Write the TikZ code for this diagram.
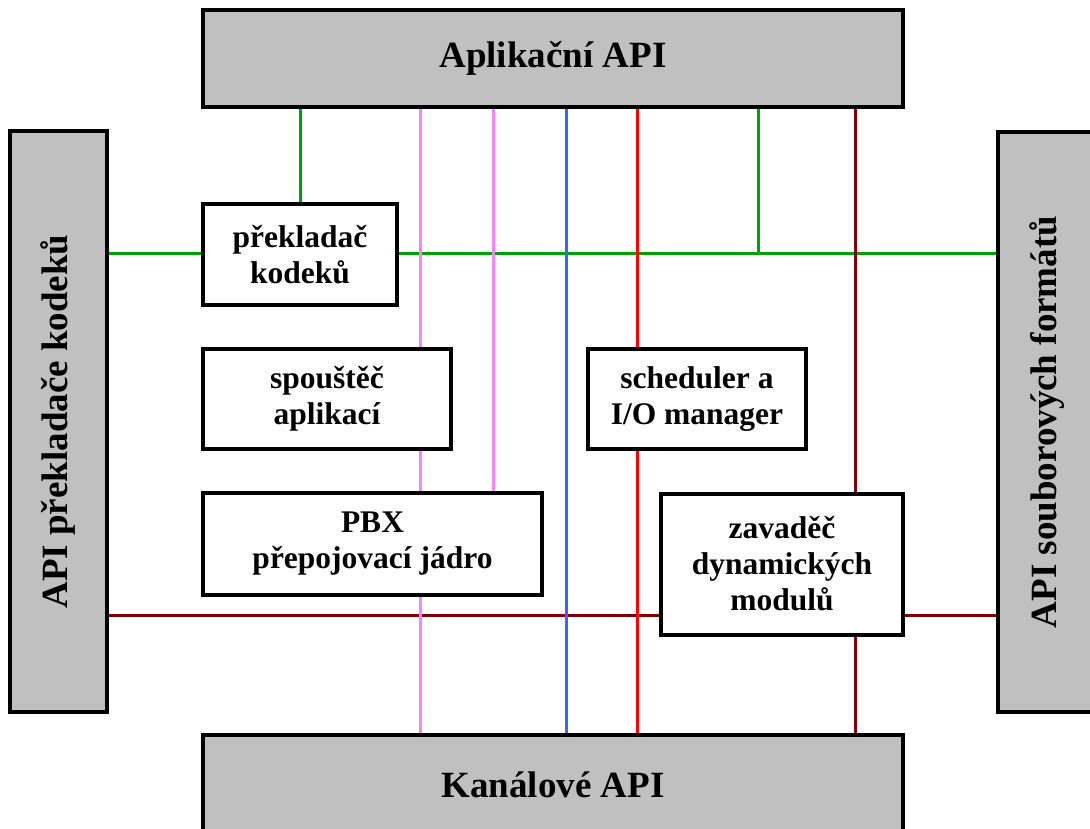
\documentclass[tikz,border=0pt]{standalone}
\usepackage{fontspec}
\setmainfont{Liberation Serif}
\usetikzlibrary{positioning}

\definecolor{apigray}{RGB}{192,192,192}
\definecolor{gline}{RGB}{0,160,0}
\definecolor{pline}{RGB}{255,128,255}
\definecolor{bline}{RGB}{64,96,255}
\definecolor{rline}{RGB}{255,0,0}
\definecolor{dline}{RGB}{128,0,0}

\begin{document}
\begin{tikzpicture}[x=1pt,y=-1pt]
	\tikzset{apibox/.style = {shape=rectangle,draw,line width=4pt,fill=apigray,
			inner sep=0pt,font=\fontsize{37}{44}\selectfont\bfseries}}
	\tikzset{modbox/.style = {shape=rectangle,draw,line width=4pt,fill=white,
			inner sep=0pt,align=center,font=\fontsize{31.5}{36}\selectfont\bfseries}}
	\tikzset{wire/.style = {line width=3pt}}
	\useasboundingbox (0,0) rectangle (1090,828);

	% API boxes
	\node[apibox, minimum width=700pt, minimum height=97pt] (app) at (553,58.5) {Aplikační API};
	\node[apibox, minimum width=700pt, minimum height=100pt] (chan) at (553,785) {Kanálové API};
	\node[apibox, minimum width=97pt, minimum height=581pt] (codec) at (58.5,421.5) {};
	\node[rotate=90, font=\fontsize{37}{44}\selectfont\bfseries] at (codec.center) {API překladače kodeků};
	\node[apibox, minimum width=98pt, minimum height=580pt] (fmt) at (1047,422) {};
	\node[rotate=90, font=\fontsize{37}{44}\selectfont\bfseries] at (fmt.center) {API souborových formátů};

	% column positions
	\coordinate (cg) at (758,0);
	\coordinate (cp1) at (420,0);
	\coordinate (cp2) at (493,0);
	\coordinate (cb) at (566,0);
	\coordinate (cr) at (637,0);
	\coordinate (cd) at (855,0);
	\coordinate (rg) at (0,253);
	\coordinate (rd) at (0,615);

	% wires
	\draw[wire, gline] (rg -| codec.east) -- (rg -| fmt.west);
	\draw[wire, gline] (cg |- app.south) -- (cg |- rg);
	\draw[wire, dline] (rd -| codec.east) -- (rd -| fmt.west);
	\draw[wire, pline] (cp1 |- app.south) -- (cp1 |- chan.north);
	\draw[wire, bline] (cb |- app.south) -- (cb |- chan.north);
	\draw[wire, rline] (cr |- app.south) -- (cr |- chan.north);
	\draw[wire, dline] (cd |- app.south) -- (cd |- chan.north);

	% modules
	\node[modbox, minimum width=194pt, minimum height=101pt] (trans) at (300,254.5) {překladač\\kodeků};
	\node[modbox, minimum width=248pt, minimum height=100pt] (launch) at (327,399) {spouštěč\\aplikací};
	\node[modbox, minimum width=339pt, minimum height=102pt] (pbx) at (372.5,544) {PBX\\přepojovací jádro};
	\node[modbox, minimum width=218pt, minimum height=100pt] (sched) at (697,399) {scheduler a\\I/O manager};
	\node[modbox, minimum width=242pt, minimum height=141pt] (loader) at (782,564) {zavaděč\\dynamických\\modulů};

	\draw[wire, gline] (trans.north) -- (trans.north |- app.south);
	\draw[wire, pline] (cp2 |- app.south) -- (cp2 |- pbx.north);
\end{tikzpicture}
\end{document}
